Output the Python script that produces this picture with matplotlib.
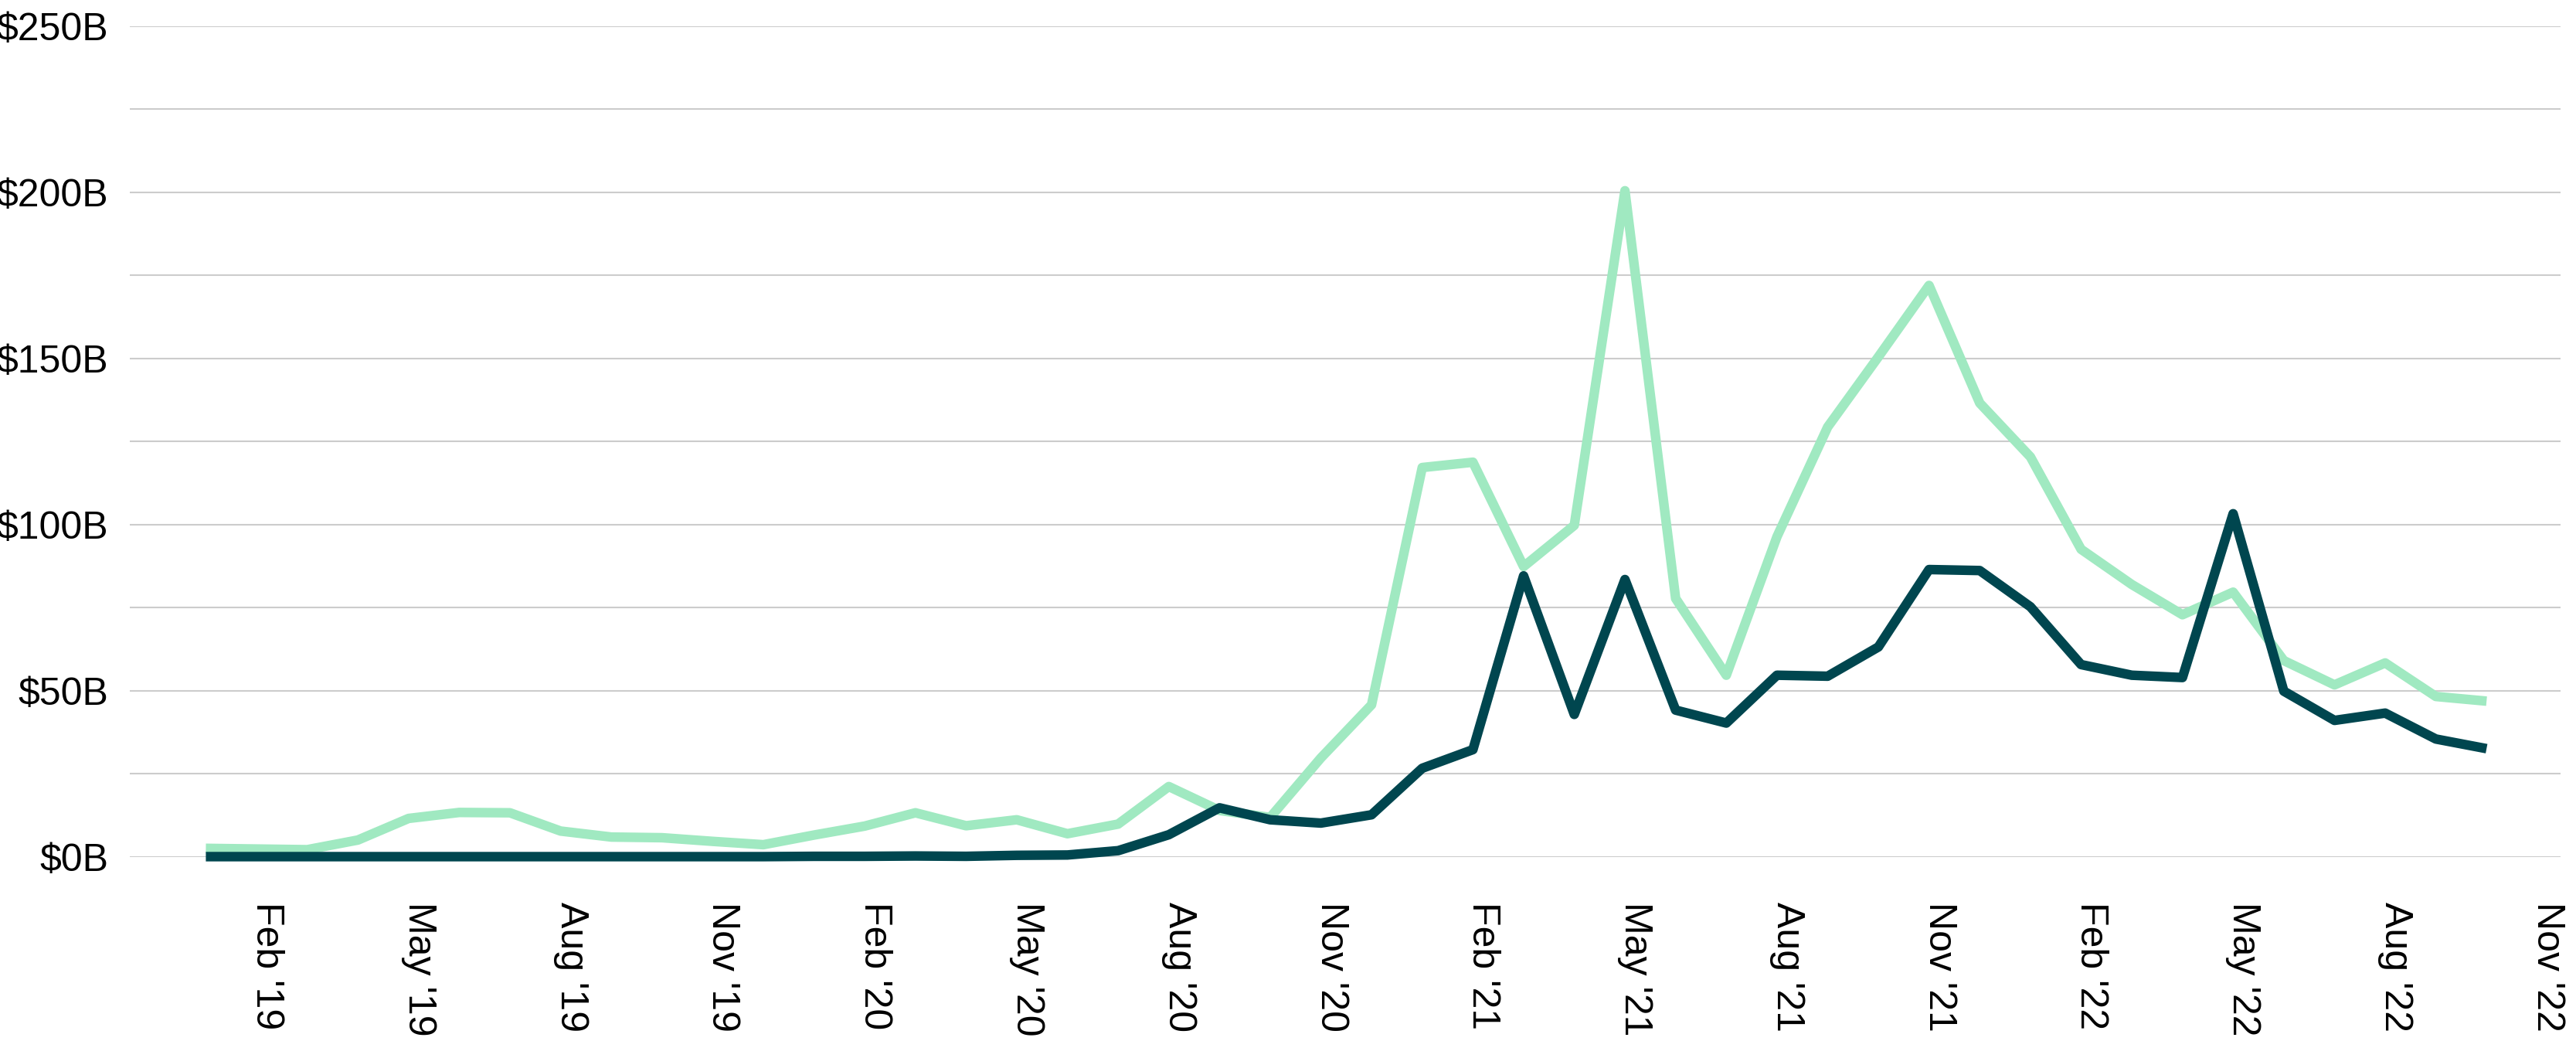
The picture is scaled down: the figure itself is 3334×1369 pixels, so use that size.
import matplotlib
matplotlib.use("Agg")
import matplotlib.pyplot as plt
import pandas as pd

# monthly values, Jan '19 - Oct '22 ($B)
light_values = [2.6, 2.4, 2.2, 5.1, 11.6, 13.4, 13.3, 7.8, 6.0, 5.8, 4.7, 3.7,
                6.6, 9.3, 13.3, 9.4, 11.2, 7.0, 9.9, 21.2, 14.0, 11.9, 29.8, 45.8,
                117.2, 118.8, 87.4, 99.8, 200.5, 77.8, 54.7, 96.4, 129.4, 150.5, 172.0, 136.6,
                120.4, 92.6, 82.0, 72.9, 79.7, 59.1, 51.8, 58.4, 48.3, 46.9]
dark_values = [0.1, 0.1, 0.1, 0.1, 0.1, 0.1, 0.1, 0.1, 0.1, 0.1, 0.1, 0.1,
               0.2, 0.2, 0.3, 0.2, 0.5, 0.6, 1.9, 6.7, 14.8, 11.2, 10.2, 12.7,
               26.7, 32.3, 84.6, 42.9, 83.5, 44.2, 40.3, 54.7, 54.4, 63.2, 86.5, 86.2,
               75.3, 57.9, 54.7, 54.0, 103.3, 49.9, 41.1, 43.3, 35.5, 32.6]

tick_labels = ["Feb '19", "May '19", "Aug '19", "Nov '19",
               "Feb '20", "May '20", "Aug '20", "Nov '20",
               "Feb '21", "May '21", "Aug '21", "Nov '21",
               "Feb '22", "May '22", "Aug '22", "Nov '22"]
y_ticks = [0, 50, 100, 150, 200, 250]

axis_months = [d.strftime("%b '%y") for d in pd.date_range("2019-01-01", "2022-11-01", freq="MS")]
tick_pos = [axis_months.index(t) for t in tick_labels]

plt.rcParams["font.family"] = ["Liberation Sans", "DejaVu Sans"]

fig, ax = plt.subplots(figsize=(33.34, 13.69), dpi=100)
fig.subplots_adjust(left=0.0504, right=0.994, top=0.9752, bottom=0.19)

x = range(len(light_values))
ax.plot(x, light_values, color="#a0e9c1", lw=8.9, solid_joinstyle="round",
        solid_capstyle="butt", clip_on=False, zorder=3)
ax.plot(x, dark_values, color="#00464f", lw=8.9, solid_joinstyle="round",
        solid_capstyle="butt", clip_on=False, zorder=4)

ax.set_xlim(-1.5, 46.46)
ax.set_ylim(0, 250)

ax.set_yticks(y_ticks)
ax.set_yticklabels([f"${v}B" for v in y_ticks], fontsize=36)
ax.set_yticks(range(25, 250, 50), minor=True)
ax.grid(axis="y", which="both", color="#cccccc", lw=1.5)
ax.set_axisbelow(True)

ax.set_xticks(tick_pos)
ax.set_xticklabels(tick_labels, fontsize=36, rotation=270, rotation_mode="anchor",
                   ha="left", va="baseline")

ax.tick_params(axis="y", which="both", length=0, pad=20)
ax.tick_params(axis="x", length=0, pad=42)
for s in ax.spines.values():
    s.set_visible(False)

fig.savefig("out.png", dpi=100, facecolor="white")
